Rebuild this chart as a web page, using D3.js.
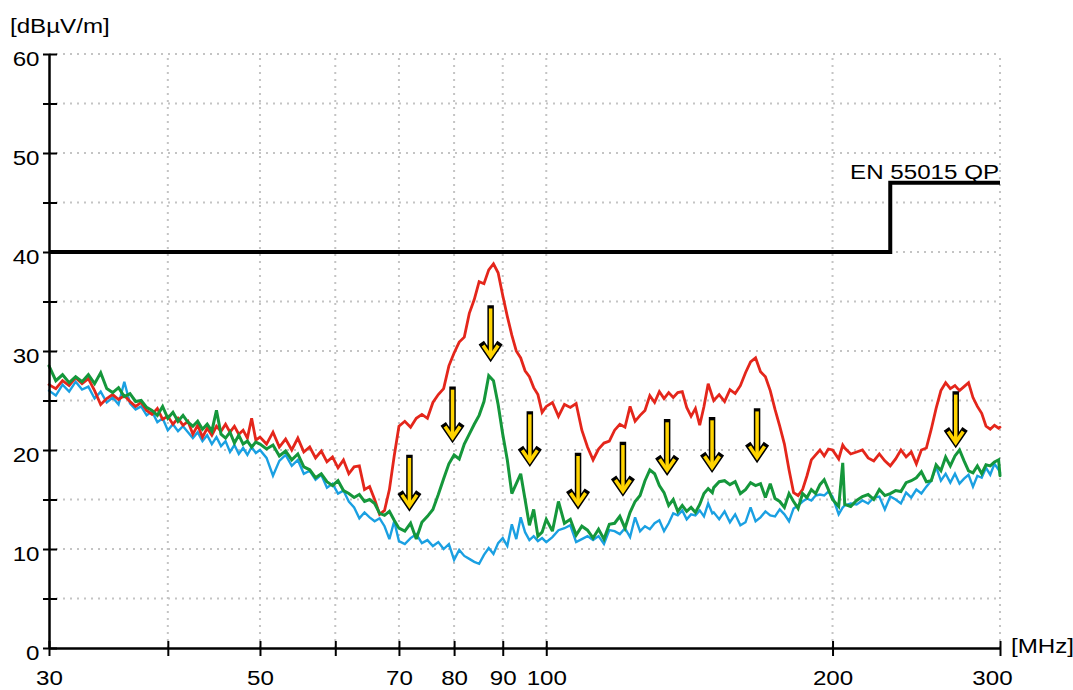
<!DOCTYPE html>
<html><head><meta charset="utf-8">
<script src="https://cdn.jsdelivr.net/npm/d3@7"></script>
<style>
html,body{margin:0;padding:0;background:#fff;}
svg{display:block;font-family:"Liberation Sans",Arial,Helvetica,sans-serif;}
</style></head><body>
<svg id="chart" width="1073" height="690"></svg>
<script>
// ---------- DATA ----------
const freqMHz = [
  30,30.5,31,31.5,32,32.5,33,33.5,34,34.5,35,35.5,36,36.5,37,37.5,38,38.5,39,39.5,
  40,40.5,41,41.5,42,42.5,43,43.5,44,44.5,45,45.5,46,46.5,47,47.5,48,48.5,49,49.5,
  50,50.8,51.6,52.4,53.2,54,54.8,55.6,56.4,57.2,58,58.8,59.6,60.4,61.2,62,62.8,63.6,64.4,65.2,66,66.8,67.6,68.4,69.2,
  70,71,72,73,74,75,76,77,78,79,80,81,82,83,84,85,86,87,88,89,90,91,92,93,94,95,96,97,98,99,
  100,101.5,103,104.5,106,107.5,109,110.5,112,113.5,115,116.5,118,119.5,121,122.5,124,125.5,127,128.5,
  130,131.5,133,134.5,136,137.5,139,140.5,142,143.5,145,146.5,148,149.5,
  150,152,154,156,158,160,162,164,166,168,170,172,174,176,178,180,182,184,186,188,190,192,194,196,198,
  200,203,205,206,209,212,215,218,221,224,227,230,233,236,239,242,245,248,251,254,
  257,260,263,266,269,272,275,278,281,284,287,290,293,296,299,300
];
// red trace (before suppression)
const levelRed = [
  26.6,26.2,27.0,26.5,27.3,26.7,27.2,26.0,24.6,25.2,25.6,25.1,25.5,24.9,24.4,24.8,24.0,23.6,24.2,23.1,
  23.4,22.6,23.2,22.5,22.9,21.6,22.5,21.3,22.2,21.5,22.4,21.9,22.6,21.8,22.4,21.6,22.0,21.2,23.2,21.0,
  21.3,20.6,21.8,20.3,21.1,20.0,21.2,19.8,20.3,19.2,19.9,18.8,19.3,18.2,19.0,17.6,18.3,18.4,16.0,16.3,15.0,13.5,13.9,16.0,19.4,
  22.4,22.9,22.3,23.2,23.6,23.2,24.8,25.6,26.2,28.5,29.8,30.9,31.4,33.8,35.2,37.0,36.8,38.2,38.8,37.9,
  35.6,33.5,31.6,30.0,29.3,28.0,27.4,26.3,25.6,23.8,
  24.4,24.8,23.4,24.6,24.3,24.7,22.0,20.3,19.0,20.1,20.7,20.9,22.0,22.6,22.3,24.4,22.9,23.5,24.0,25.5,
  24.8,25.9,25.2,25.8,25.3,25.8,25.9,24.3,23.4,24.2,22.5,24.4,26.7,25.4,
  25.0,25.6,24.9,26.1,25.7,26.5,27.8,28.9,29.3,27.9,27.4,26.0,24.1,22.4,20.6,18.0,15.7,15.4,16.0,17.4,19.0,19.5,20.0,19.4,20.1,
  20.0,19.1,20.5,20.2,19.6,19.8,20.0,19.2,18.9,19.6,18.9,18.4,19.1,20.0,19.3,19.8,18.6,20.0,20.2,22.1,
  24.2,26.0,26.8,26.2,26.5,26.0,26.4,26.8,25.3,24.4,23.7,22.4,22.1,22.5,22.2,22.3
];
// green trace (after suppression)
const levelGreen = [
  28.5,27.0,27.6,26.8,27.4,26.9,27.6,26.7,27.8,26.2,25.8,26.3,25.4,25.7,24.9,25.0,24.3,24.0,23.5,24.4,
  23.2,23.8,22.9,23.5,22.8,22.4,22.9,22.1,22.6,21.9,24.0,21.6,21.2,21.8,20.7,21.5,20.6,20.9,20.3,20.8,
  20.6,20.1,20.5,19.4,19.9,19.0,19.6,18.3,18.0,17.2,17.6,16.8,16.4,16.9,15.9,15.6,15.2,15.5,14.8,15.0,14.6,13.6,13.4,13.8,12.9,
  12.1,11.8,12.6,11.0,12.7,13.3,14.0,15.5,17.1,18.6,19.5,19.1,20.6,21.6,22.6,23.5,24.9,27.5,27.0,24.6,
  21.6,19.0,15.6,16.6,17.6,15.0,12.4,14.0,11.3,11.7,
  13.0,11.8,14.8,12.6,13.0,11.4,12.3,11.9,11.1,12.0,11.0,12.5,12.6,13.3,12.1,13.7,14.8,15.4,16.9,18.0,
  17.6,16.4,15.7,14.4,15.0,13.8,14.4,13.8,14.2,13.7,14.5,15.6,16.1,15.7,
  16.2,16.8,16.9,16.5,16.8,15.6,16.0,16.7,16.4,16.6,15.2,16.6,15.1,14.8,14.2,15.6,14.8,14.1,15.6,15.2,16.0,15.6,16.5,17.0,16.0,
  15.0,14.3,18.7,14.5,14.3,14.9,15.3,15.5,15.0,16.0,15.4,15.6,15.9,15.8,16.7,16.9,17.2,17.8,16.8,16.9,
  18.5,17.9,19.3,18.4,19.4,20.0,18.9,17.9,17.7,18.4,17.6,18.5,18.4,18.8,19.0,17.4
];
// blue trace (background / ambient)
const levelBlue = [
  26.0,25.5,26.6,25.9,26.9,26.1,26.4,25.2,25.9,24.8,25.3,24.6,26.9,24.7,24.1,24.4,23.5,23.9,22.8,23.2,
  22.0,22.6,21.9,22.4,21.8,21.2,21.8,20.9,21.5,20.6,21.3,20.4,20.9,19.8,20.5,19.6,20.2,19.5,20.3,19.7,
  20.0,19.2,17.4,18.9,19.5,18.4,19.0,17.6,17.9,17.0,17.5,16.2,16.6,15.6,15.9,14.8,14.2,13.1,13.7,13.2,12.8,13.1,12.3,11.0,12.8,
  10.8,10.5,11.1,11.5,10.6,10.9,10.3,10.7,10.0,10.5,8.9,9.9,9.3,9.0,8.7,8.5,9.4,10.1,9.5,10.6,
  11.1,10.3,12.5,11.0,13.2,11.7,10.9,11.3,10.8,11.1,
  10.7,11.2,11.9,12.1,12.4,10.7,11.0,11.3,10.9,11.3,10.5,11.9,11.8,11.5,12.1,11.2,13.2,11.8,12.3,12.0,
  12.6,12.9,11.8,12.6,13.6,13.4,13.9,13.0,13.5,13.4,13.9,13.3,14.6,13.6,
  13.7,13.0,13.8,12.7,13.5,12.4,12.7,14.2,12.8,13.2,13.8,13.4,13.3,14.0,13.5,12.8,14.1,14.4,14.8,15.1,14.9,15.4,15.5,15.4,15.8,
  15.3,13.5,14.2,14.4,14.6,14.5,14.9,14.6,15.2,15.3,14.0,15.3,15.0,14.6,15.7,15.2,16.0,15.6,16.3,16.9,
  18.3,16.9,17.6,16.7,17.6,16.6,17.1,17.5,16.3,17.4,17.2,18.2,17.5,18.6,18.0,17.7
];
// EN 55015 QP limit
const limitFreq = [30, 230, 230, 300];
const limitLevel = [40, 40, 47, 47];
const limitName = "EN 55015 QP";
// arrows (frequency, start level, end level)
const arrowFreq = [71.8, 79.7, 87.4, 96.1, 108.0, 120.4, 134.0, 149.4, 166.6, 269.5];
const arrowFrom = [19.5, 26.4, 34.6, 23.9, 19.7, 20.8, 23.1, 23.3, 24.2, 25.9];
const arrowTo   = [13.8, 20.7, 28.9, 18.3, 14.0, 15.3, 17.4, 17.7, 18.7, 20.2];
// ticks
const xTickValues = [30, 40, 50, 60, 70, 80, 90, 100, 200, 300];
const xTickLabels = ["30", "", "50", "", "70", "80", "90", "100", "200", "300"];
const yTickValues = [0, 5, 10, 15, 20, 25, 30, 35, 40, 45, 50, 55, 60];
const yTickLabels = ["0", "", "10", "", "20", "", "30", "", "40", "", "50", "", "60"];
const yUnit = "[dBµV/m]";
const xUnit = "[MHz]";

// ---------- CHART ----------
const svg = d3.select("#chart");
const x = d3.scaleLog().domain([30, 300]).range([49, 1000]);
const y = d3.scaleLinear().domain([0, 60]).range([648, 54]);
const FONT = 21, SX = 1.15;
const gridColor = "#c4c4c4";

// grid
const grid = svg.append("g");
grid.selectAll("line.h").data(yTickValues.filter(v => v > 0)).join("line").attr("class", "h")
  .attr("x1", x(30)).attr("x2", x(300)).attr("y1", d => y(d)).attr("y2", d => y(d))
  .attr("stroke", gridColor).attr("stroke-width", 2).attr("stroke-dasharray", "2 5");
grid.selectAll("line.v").data(xTickValues.filter(v => v > 30)).join("line").attr("class", "v")
  .attr("x1", d => x(d)).attr("x2", d => x(d)).attr("y1", y(0)).attr("y2", y(60))
  .attr("stroke", gridColor).attr("stroke-width", 2).attr("stroke-dasharray", "2 5");

// limit line
const limitLine = d3.line().x((d, i) => x(limitFreq[i])).y(d => y(d));
svg.append("path").datum(limitLevel).attr("d", limitLine)
  .attr("fill", "none").attr("stroke", "#000").attr("stroke-width", 4).attr("stroke-linejoin", "miter");
svg.append("text").text(limitName)
  .attr("transform", `translate(${x(300) - 1},${y(47) - 4}) scale(${SX},1)`)
  .attr("text-anchor", "end").attr("font-size", FONT).attr("fill", "#000");

// traces
const trace = d3.line().x((d, i) => x(freqMHz[i])).y(d => y(d));
[[levelBlue, "#1aa0e2", 2.4], [levelRed, "#e4261b", 2.8], [levelGreen, "#15973b", 3]].forEach(([vals, col, w]) => {
  svg.append("path").datum(vals).attr("d", trace)
    .attr("fill", "none").attr("stroke", col).attr("stroke-width", w)
    .attr("stroke-linejoin", "miter").attr("stroke-miterlimit", 3).attr("stroke-linecap", "round");
});

// axes
const xAxis = d3.axisBottom(x).tickValues(xTickValues).tickSizeOuter(0)
  .tickFormat(d => xTickLabels[xTickValues.indexOf(d)]);
const gx = svg.append("g").attr("transform", `translate(0,${y(0)})`).call(xAxis)
  .attr("font-size", FONT).attr("font-family", null);
gx.select(".domain").attr("stroke", "#000").attr("stroke-width", 2.5);
gx.selectAll(".tick line").attr("y1", -7).attr("y2", 8).attr("stroke", "#000").attr("stroke-width", 2);
gx.selectAll(".tick text").attr("y", null).attr("dy", null).attr("fill", "#000")
  .attr("transform", d => `translate(${d === 300 ? -8 : 0},37) scale(${SX},1)`);

const yAxis = d3.axisLeft(y).tickValues(yTickValues).tickSizeOuter(0)
  .tickFormat(d => yTickLabels[yTickValues.indexOf(d)]);
const gy = svg.append("g").attr("transform", `translate(${x(30)},0)`).call(yAxis)
  .attr("font-size", FONT).attr("font-family", null);
gy.select(".domain").attr("stroke", "#000").attr("stroke-width", 2.5);
gy.selectAll(".tick line").attr("x1", 8).attr("x2", -6).attr("stroke", "#000").attr("stroke-width", 2);
gy.selectAll(".tick text").attr("x", null).attr("dy", null).attr("fill", "#000")
  .attr("transform", `translate(-9.5,11) scale(${SX},1)`);

// units
svg.append("text").text(yUnit).attr("transform", `translate(10,33) scale(${SX},1)`)
  .attr("font-size", FONT).attr("fill", "#000");
svg.append("text").text(xUnit).attr("transform", `translate(1011,653) scale(${SX},1)`)
  .attr("font-size", FONT).attr("fill", "#000");

// arrows
const headW = 7.5, headH = 11;
const arrows = arrowFreq.map((f, i) => ({ x: x(f), y0: y(arrowFrom[i]), y1: y(arrowTo[i]) }));
const shaftPath = a => { const ap = a.y1 - 5.5; return `M${a.x},${a.y0 + 3}L${a.x},${ap - 2}`; };
const headPath = a => { const ap = a.y1 - 5.5; return `M${a.x - headW},${ap - headH}L${a.x},${ap}L${a.x + headW},${ap - headH}`; };
const ga = svg.append("g");
arrows.forEach(a => {
  ga.append("path").attr("d", shaftPath(a) + headPath(a)).attr("fill", "none").attr("stroke", "#000")
    .attr("stroke-width", 6.5).attr("stroke-linecap", "square").attr("stroke-linejoin", "miter");
  ga.append("path").attr("d", shaftPath(a)).attr("fill", "none").attr("stroke", "#ffd400")
    .attr("stroke-width", 3.5).attr("stroke-linecap", "butt");
  ga.append("path").attr("d", headPath(a)).attr("fill", "none").attr("stroke", "#ffd400")
    .attr("stroke-width", 3.5).attr("stroke-linecap", "butt").attr("stroke-linejoin", "miter");
});
</script>
</body></html>
